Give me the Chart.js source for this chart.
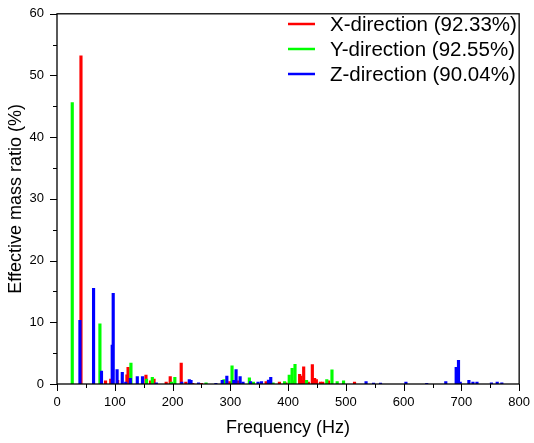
<!DOCTYPE html>
<html>
<head>
<meta charset="utf-8">
<script src="https://cdn.jsdelivr.net/npm/chart.js@4.4.0/dist/chart.umd.min.js"></script>
<style>
  html, body { margin: 0; padding: 0; background: #fff; }
  #wrap { width: 534px; height: 443px; }
</style>
</head>
<body>
<div id="wrap"><canvas id="massChart" width="534" height="443"></canvas></div>
<script>
// modal frequencies (Hz) and effective mass ratios (%)
const xFreq  = [41.5, 84, 93, 105, 121, 123, 154, 162, 168, 189, 196, 215, 223, 235, 250, 299, 314, 362, 385, 396, 410, 420, 422, 425, 427, 435, 442, 446, 449, 456, 460, 470, 515];
const xRatio = [53.2, 0.5, 0.8, 0.6, 1.5, 2.7, 1.45, 0.5, 0.8, 0.3, 1.2, 3.4, 0.3, 0.1, 0.1, 0.4, 0.5, 0.4, 0.3, 0.2, 0.5, 1.55, 1.3, 0.6, 2.8, 0.3, 3.15, 0.9, 0.7, 0.3, 0.3, 0.5, 0.3];

const yFreq  = [26.4, 74.3, 128, 155, 165, 198, 204, 258, 289, 303, 333, 340, 374, 394, 402, 407, 412, 432, 467, 476, 485, 496];
const yRatio = [45.6, 9.75, 3.4, 0.8, 1.1, 0.3, 1.1, 0.2, 0.7, 2.95, 1.0, 0.3, 0.2, 0.4, 1.45, 2.55, 3.2, 0.6, 0.7, 2.3, 0.4, 0.5];

const zFreq  = [39.7, 63.3, 77, 95.6, 97.3, 104, 113, 119, 127, 139, 148, 172, 216, 229, 232, 245, 275, 286, 294, 306, 310, 317, 322, 335, 348, 354, 366, 370, 535, 548, 560, 604, 640, 673, 691, 695, 698, 713, 720, 727, 752, 762, 770];
const zRatio = [10.3, 15.5, 2.1, 6.3, 14.7, 2.35, 1.9, 0.3, 0.9, 1.2, 1.2, 0.2, 0.3, 0.7, 0.6, 0.2, 0.1, 0.6, 1.3, 0.6, 2.35, 1.2, 0.3, 0.4, 0.3, 0.4, 0.65, 1.1, 0.4, 0.15, 0.15, 0.3, 0.1, 0.4, 2.7, 3.85, 0.3, 0.6, 0.3, 0.3, 0.2, 0.3, 0.2];

const seriesNames = ['X-direction (92.33%)', 'Y-direction (92.55%)', 'Z-direction (90.04%)'];
const seriesColors = ['#ff0000', '#00ff00', '#0000ff'];

const xTickStep = 50;   // labels every 100
const yTickStep = 5;    // labels every 10

const FONT = '"Liberation Sans", Arial, sans-serif';

const toPoints = (fs, vs) => fs.map((f, i) => ({ x: f, y: vs[i] }));

// frame, outward tick marks and legend inside the plot
const framePlugin = {
    id: 'frame',
    afterDraw(chart) {
        const { ctx, chartArea: a, scales } = chart;
        ctx.save();
        ctx.strokeStyle = '#000';
        ctx.lineWidth = 1.3;
        ctx.strokeRect(a.left, a.top, a.right - a.left, a.bottom - a.top);

        ctx.lineWidth = 1;
        ctx.beginPath();
        scales.x.ticks.forEach(t => {
            const px = Math.round(scales.x.getPixelForValue(t.value)) + 0.5;
            const len = t.value % 100 === 0 ? 7 : 4;
            ctx.moveTo(px, a.bottom);
            ctx.lineTo(px, a.bottom + len);
        });
        scales.y.ticks.forEach(t => {
            const py = Math.round(scales.y.getPixelForValue(t.value)) + 0.5;
            const len = t.value % 10 === 0 ? 7 : 4;
            ctx.moveTo(a.left, py);
            ctx.lineTo(a.left - len, py);
        });
        ctx.stroke();

        // legend
        ctx.font = '20.5px ' + FONT;
        ctx.textBaseline = 'middle';
        ctx.fillStyle = '#000';
        seriesNames.forEach((name, i) => {
            const y = 24 + i * 25;
            ctx.strokeStyle = seriesColors[i];
            ctx.lineWidth = 2.5;
            ctx.beginPath();
            ctx.moveTo(288, y);
            ctx.lineTo(315, y);
            ctx.stroke();
            ctx.fillText(name, 330, y + 1);
        });
        ctx.restore();
    }
};

const makeSet = (label, pts, color, order) => ({
    label: label,
    data: pts,
    backgroundColor: color,
    borderWidth: 0,
    barThickness: 2.5,
    grouped: false,
    order: order
});

new Chart(document.getElementById('massChart').getContext('2d'), {
    type: 'bar',
    data: {
        datasets: [
            makeSet(seriesNames[0], toPoints(xFreq, xRatio), seriesColors[0], 3),
            makeSet(seriesNames[1], toPoints(yFreq, yRatio), seriesColors[1], 2),
            makeSet(seriesNames[2], toPoints(zFreq, zRatio), seriesColors[2], 1)
        ]
    },
    options: {
        responsive: false,
        animation: false,
        layout: { padding: { left: 0, top: 11, right: 13, bottom: 0 } },
        plugins: {
            legend: { display: false },
            tooltip: { enabled: false }
        },
        scales: {
            x: {
                type: 'linear',
                min: 0,
                max: 800,
                offset: false,
                grid: { display: false, drawTicks: true, tickLength: 7 },
                border: { display: false },
                ticks: {
                    stepSize: xTickStep,
                    autoSkip: false,
                    maxRotation: 0,
                    padding: 4,
                    color: '#000',
                    font: { family: FONT, size: 13 },
                    callback: v => (v % 100 === 0 ? v : '')
                },
                title: {
                    display: true,
                    text: 'Frequency (Hz)',
                    color: '#000',
                    font: { family: FONT, size: 18 },
                    padding: { top: 0, bottom: 4 }
                },
                afterFit: s => { s.height = 59; }
            },
            y: {
                min: 0,
                max: 60,
                grid: { display: false, drawTicks: true, tickLength: 7 },
                border: { display: false },
                ticks: {
                    stepSize: yTickStep,
                    autoSkip: false,
                    padding: 6,
                    color: '#000',
                    font: { family: FONT, size: 13 },
                    callback: v => (v % 10 === 0 ? v : '')
                },
                title: {
                    display: true,
                    text: 'Effective mass ratio (%)',
                    color: '#000',
                    font: { family: FONT, size: 18 },
                    padding: { top: 5, bottom: 0 }
                },
                afterFit: s => { s.width = 57; }
            }
        }
    },
    plugins: [framePlugin]
});
</script>
</body>
</html>
